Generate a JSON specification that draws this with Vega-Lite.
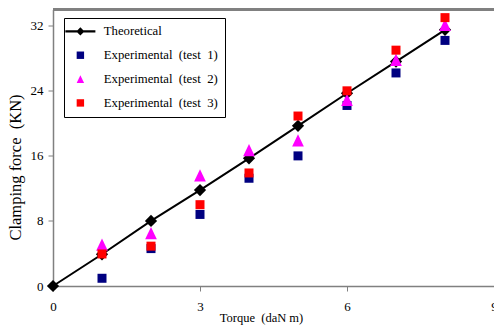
{
  "$schema": "https://vega.github.io/schema/vega-lite/v6.json",
  "width": 441,
  "height": 276.5,
  "autosize": {"type": "none"},
  "padding": {"left": 53, "top": 9.5, "right": 0, "bottom": 41},
  "background": "white",
  "data": {
    "values": [
      {"torque": 0, "force": 0, "series": "Theoretical"},
      {"torque": 1, "force": 3.9, "series": "Theoretical"},
      {"torque": 2, "force": 8.0, "series": "Theoretical"},
      {"torque": 3, "force": 11.8, "series": "Theoretical"},
      {"torque": 4, "force": 15.7, "series": "Theoretical"},
      {"torque": 5, "force": 19.7, "series": "Theoretical"},
      {"torque": 6, "force": 23.7, "series": "Theoretical"},
      {"torque": 7, "force": 27.6, "series": "Theoretical"},
      {"torque": 8, "force": 31.5, "series": "Theoretical"},
      {"torque": 1, "force": 0.95, "series": "Experimental (test 1)"},
      {"torque": 2, "force": 4.6, "series": "Experimental (test 1)"},
      {"torque": 3, "force": 8.8, "series": "Experimental (test 1)"},
      {"torque": 4, "force": 13.25, "series": "Experimental (test 1)"},
      {"torque": 5, "force": 16.0, "series": "Experimental (test 1)"},
      {"torque": 6, "force": 22.2, "series": "Experimental (test 1)"},
      {"torque": 7, "force": 26.2, "series": "Experimental (test 1)"},
      {"torque": 8, "force": 30.2, "series": "Experimental (test 1)"},
      {"torque": 1, "force": 5.1, "series": "Experimental (test 2)"},
      {"torque": 2, "force": 6.5, "series": "Experimental (test 2)"},
      {"torque": 3, "force": 13.6, "series": "Experimental (test 2)"},
      {"torque": 4, "force": 16.7, "series": "Experimental (test 2)"},
      {"torque": 5, "force": 17.9, "series": "Experimental (test 2)"},
      {"torque": 6, "force": 22.9, "series": "Experimental (test 2)"},
      {"torque": 7, "force": 27.8, "series": "Experimental (test 2)"},
      {"torque": 8, "force": 32.1, "series": "Experimental (test 2)"},
      {"torque": 1, "force": 3.94, "series": "Experimental (test 3)"},
      {"torque": 2, "force": 4.9, "series": "Experimental (test 3)"},
      {"torque": 3, "force": 10.0, "series": "Experimental (test 3)"},
      {"torque": 4, "force": 13.9, "series": "Experimental (test 3)"},
      {"torque": 5, "force": 20.9, "series": "Experimental (test 3)"},
      {"torque": 6, "force": 24.0, "series": "Experimental (test 3)"},
      {"torque": 7, "force": 29.0, "series": "Experimental (test 3)"},
      {"torque": 8, "force": 33.0, "series": "Experimental (test 3)"}
    ]
  },
  "encoding": {
    "x": {
      "field": "torque",
      "type": "quantitative",
      "scale": {"domain": [0, 9], "nice": false, "zero": false},
      "axis": {
        "values": [0, 3, 6, 9],
        "labelFont": "Liberation Serif",
        "labelPadding": 9,
        "labelFlush": false,
        "title": "Torque\u00a0\u00a0(daN m)",
        "titleFontSize": 12.5,
        "titleX": 208,
        "titleY": 35.7,
        "titleBaseline": "alphabetic",
        "titleAlign": "center"
      }
    },
    "y": {
      "field": "force",
      "type": "quantitative",
      "scale": {"domain": [0, 34], "nice": false},
      "axis": {
        "values": [0, 8, 16, 24, 32],
        "labelFont": "Liberation Serif",
        "labelPadding": 5,
        "labelFlush": false,
        "title": "Clamping force\u00a0\u00a0(KN)",
        "titleFontSize": 16.5,
        "titleX": -37.7,
        "titleY": 157.5,
        "titleBaseline": "middle",
        "titleAlign": "center",
        "titleAngle": -90
      }
    }
  },
  "layer": [
    {
      "mark": {"type": "rule", "color": "#808080", "strokeWidth": 1.5},
      "encoding": {"x": null, "y": {"datum": 34, "type": "quantitative"}}
    },
    {
      "transform": [{"filter": "datum.series === 'Theoretical'"}],
      "mark": {"type": "line", "color": "black", "strokeWidth": 2}
    },
    {
      "transform": [{"filter": "datum.series === 'Theoretical'"}],
      "mark": {"type": "point", "shape": "diamond", "filled": true, "color": "black", "size": 150, "opacity": 1}
    },
    {
      "transform": [{"filter": "datum.series === 'Experimental (test 1)'"}],
      "mark": {"type": "point", "shape": "square", "filled": true, "color": "#000080", "size": 81, "opacity": 1}
    },
    {
      "transform": [{"filter": "datum.series === 'Experimental (test 2)'"}],
      "mark": {"type": "point", "shape": "M0,-1.05L1,1.05L-1,1.05Z", "filled": true, "color": "#FF00FF", "size": 137, "opacity": 1}
    },
    {
      "transform": [{"filter": "datum.series === 'Experimental (test 3)'"}],
      "mark": {"type": "point", "shape": "square", "filled": true, "color": "#FF0000", "size": 81, "opacity": 1}
    },
    {
      "transform": [{"filter": "false"}],
      "mark": {"type": "point", "filled": true, "opacity": 1},
      "encoding": {
        "color": {
          "field": "series",
          "type": "nominal",
          "scale": {
            "domain": ["Theoretical", "Experimental (test 1)", "Experimental (test 2)", "Experimental (test 3)"],
            "range": ["black", "#000080", "#FF00FF", "#FF0000"]
          },
          "legend": {
            "title": null,
            "orient": "none",
            "legendX": 11,
            "legendY": 8.5,
            "strokeColor": "black",
            "fillColor": "white",
            "padding": 7,
            "symbolSize": 55,
            "symbolOffset": 3,
            "labelFont": "Liberation Serif",
            "labelFontSize": 12.75,
            "labelColor": "black",
            "labelOffset": 17,
            "rowPadding": 9.85,
            "labelLimit": 0,
            "labelExpr": "replace(replace(datum.label, ' ', '\u00a0\u00a0'), ' ', '\u00a0\u00a0')"
          }
        },
        "shape": {
          "field": "series",
          "type": "nominal",
          "scale": {
            "domain": ["Theoretical", "Experimental (test 1)", "Experimental (test 2)", "Experimental (test 3)"],
            "range": ["M-4.05,-0.27L4.05,-0.27L4.05,0.27L-4.05,0.27ZM0,-1.1L1.1,0L0,1.1L-1.1,0Z", "square", "M0,-1.05L1,1.05L-1,1.05Z", "square"]
          },
          "legend": {
            "title": null,
            "orient": "none",
            "legendX": 11,
            "legendY": 8.5,
            "strokeColor": "black",
            "fillColor": "white",
            "padding": 7,
            "symbolSize": 55,
            "symbolOffset": 3,
            "labelFont": "Liberation Serif",
            "labelFontSize": 12.75,
            "labelColor": "black",
            "labelOffset": 17,
            "rowPadding": 9.85,
            "labelLimit": 0,
            "labelExpr": "replace(replace(datum.label, ' ', '\u00a0\u00a0'), ' ', '\u00a0\u00a0')"
          }
        }
      }
    }
  ],
  "config": {
    "view": {"stroke": null},
    "axis": {
      "labelFont": "Liberation Serif",
      "titleFont": "Liberation Serif",
      "labelFontSize": 13,
      "labelColor": "black",
      "titleColor": "black",
      "titleFontWeight": "normal",
      "domainColor": "#808080",
      "domainWidth": 1.5,
      "tickColor": "#808080",
      "tickSize": 5,
      "grid": false
    }
  }
}
